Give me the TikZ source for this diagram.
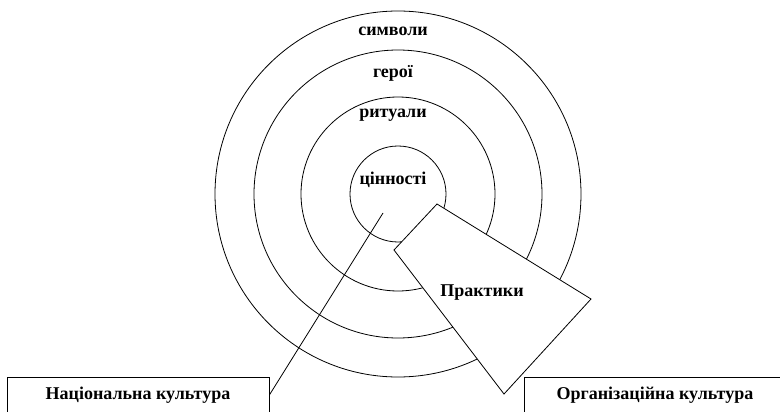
\documentclass[tikz,border=0pt]{standalone}
\usepackage{fontspec}
\setmainfont{Liberation Serif}
\usetikzlibrary{positioning, calc}

\begin{document}
\begin{tikzpicture}[x=1pt, y=-1pt,
    ring/.style={draw, line width=0.8pt},
    word/.style={font=\bfseries\fontsize{18}{20}\selectfont, inner sep=0pt},
    culture/.style={draw, fill=white, line width=0.8pt, minimum width=262pt,
        minimum height=36pt, font=\bfseries\fontsize{18}{20}\selectfont}]
    \useasboundingbox (0,0) rectangle (780,412);

    % кола
    \coordinate (O) at (398,194);
    \draw[ring] (O) circle[radius=183pt];
    \draw[ring] (O) circle[radius=144pt];
    \draw[ring] (O) circle[radius=97pt];
    \draw[ring] (O) circle[radius=48pt];

    % підписи кіл
    \node[word] (symb) at (393,31) {символи};
    \node[word] (hero) at (393,73) {герої};
    \node[word] (ritu) at (393,115) {ритуали};
    \node[word] (valu) at (393,180) {цінності};

    % культури
    \node[culture] (nat) at (138,395) {Національна культура};
    \coordinate (core) at (383,213);
    \draw[line width=0.8pt] (nat.east) -- (core);

    % практики
    \coordinate (p1) at (437,204);
    \coordinate (p2) at (591,299);
    \coordinate (p3) at (504,394);
    \coordinate (p4) at (394,250);
    \fill[gray!55, shift={(1.5,1.5)}] (p1) -- (p2) -- (p3) -- (p4) -- cycle;
    \draw[fill=white, line width=0.8pt] (p1) -- (p2) -- (p3) -- (p4) -- cycle;
    \node[word] (prac) at (482,293) {Практики};

    \node[culture] (org) at (655,395) {Організаційна культура};
\end{tikzpicture}
\end{document}
